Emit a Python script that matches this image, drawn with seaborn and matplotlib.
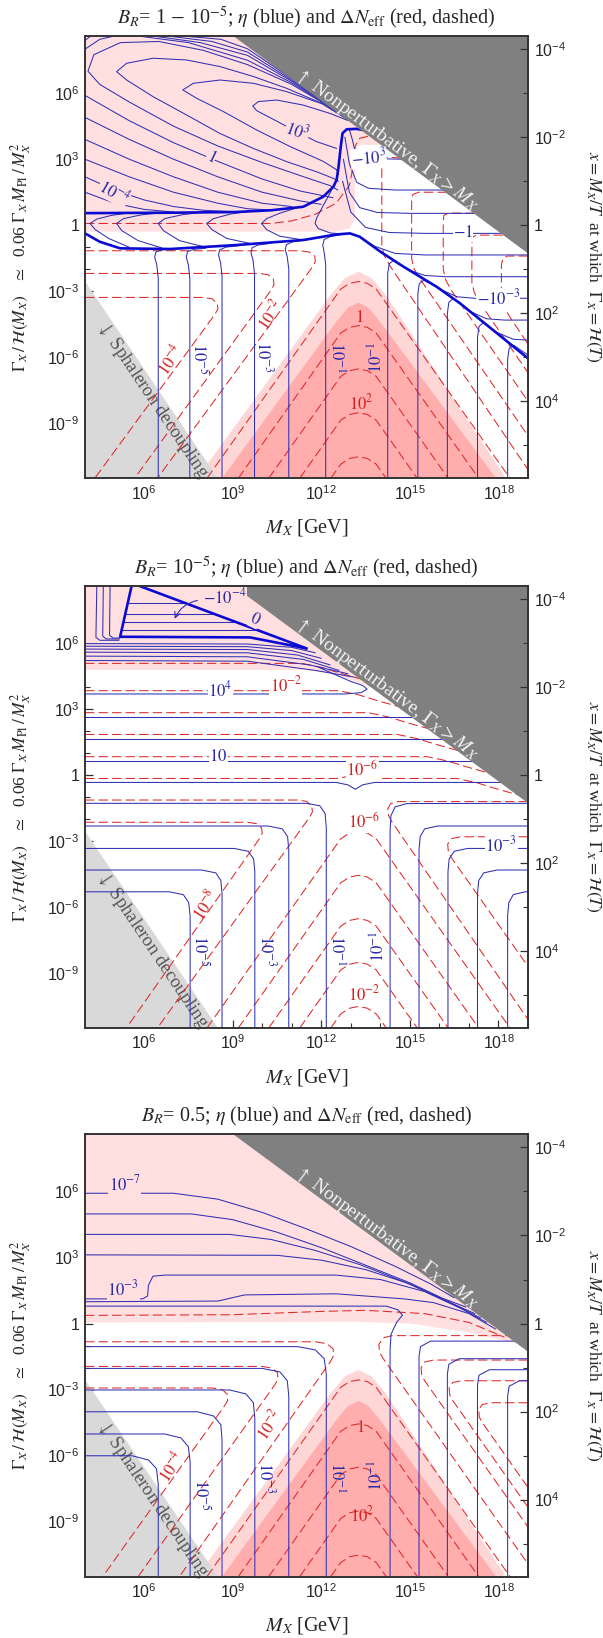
import numpy as np
import matplotlib
matplotlib.use("Agg")
import matplotlib.pyplot as plt
import seaborn as sns

sns.set_style("ticks")
plt.rcParams["font.family"] = ["Liberation Serif", "DejaVu Serif"]
plt.rcParams["mathtext.fontset"] = "stix"
plt.rcParams["mathtext.rm"] = "Liberation Sans"
plt.rcParams["mathtext.it"] = "Liberation Sans:italic"
plt.rcParams["mathtext.bf"] = "Liberation Sans:bold"

# all coordinates are (log10 M_X/GeV, log10 of 0.06 Gamma M_Pl / M^2)
XLIM = (4, 19)
YLIM = (-11.5, 8.6)

# shaded regions
nonpert_region = [(9.02, 8.6), (19, -1.28), (19, 8.6)]
sphaleron_region = [(4, -2.55), (8.5, -11.5), (4, -11.5)]
low_pink_light = [(7.79, -11.5), (12.3, -3.2), (12.8, -2.4), (13.26, -2.11), (13.7, -2.4), (14.2, -3.2), (18.25, -11.5)]
low_pink_dark = [(8.64, -11.5), (12.5, -4.4), (12.9, -3.75), (13.26, -3.52), (13.6, -3.75), (14.0, -4.4), (17.92, -11.5)]
p1_pink = [(4, 8.6), (4, -0.29), (12.5, -0.29), (12.95, -0.15), (13.14, 0.3), (13.14, 3.45), (13.3, 3.65), (14.5, 3.65), (14.5, 8.6)]
p2_pink = [(4, 8.6), (4, 4.77), (11.5, 4.77), (12.5, 4.55), (13.3, 4.2), (13.8, 3.92), (14.5, 3.92), (14.5, 8.6)]
p3_pink = [(4, 8.6), (4, 0.05), (13.15, 0.08), (15.0, 0.0), (17.0, -0.4), (18.64, -0.92), (19, -1.28), (19, 8.6)]

# Delta N_eff wedges below the diagonal band (same in all panels)
red_wedges = [
    [(8.13, -11.5), (12.66, -2.9), (12.96, -2.64), (13.26, -2.56), (13.56, -2.64), (13.86, -2.9), (18.39, -11.5)],
    [(9.19, -11.5), (12.66, -4.9), (12.96, -4.64), (13.26, -4.56), (13.56, -4.64), (13.86, -4.9), (17.33, -11.5)],
    [(10.22, -11.5), (12.66, -6.87), (12.96, -6.61), (13.26, -6.53), (13.56, -6.61), (13.86, -6.87), (16.3, -11.5)],
    [(11.27, -11.5), (12.66, -8.86), (12.96, -8.6), (13.26, -8.52), (13.56, -8.6), (13.86, -8.86), (15.25, -11.5)],
    [(12.32, -11.5), (12.66, -10.86), (12.96, -10.6), (13.26, -10.52), (13.56, -10.6), (13.86, -10.86), (14.2, -11.5)],
]

# ---------------- panel 1: B_R = 1 - 1e-5 ----------------
p1_blue_thick = [
    [(4, 0.55), (7, 0.57), (9.1, 0.6), (10.3, 0.68), (11.39, 0.84), (12.07, 1.3), (12.41, 1.75), (12.52, 2.06),
     (12.58, 2.6), (12.66, 3.57), (12.72, 4.18), (12.86, 4.36), (13.2, 4.38), (13.4, 4.33)],
    [(4, -0.37), (4.5, -0.75), (5.19, -1.05), (6.88, -1.08), (9.13, -0.9), (11.4, -0.67), (12.5, -0.42),
     (12.97, -0.37), (13.3, -0.52), (14.0, -1.2), (14.78, -1.88), (15.9, -2.79), (16.7, -3.55), (19, -6.05)],
]
p1_blue = [
    [(12.52, 3.49), (11.84, 3.8), (11.17, 4.25), (10.38, 4.81), (9.81, 5.21), (9.68, 5.42), (9.87, 5.62),
     (10.49, 5.69), (11.39, 5.46), (12.3, 5.08), (12.9, 4.76)],
    [(12.58, 2.3), (12.52, 2.52), (12.07, 2.9), (10.94, 3.58), (9.81, 4.33), (8.68, 5.17), (7.78, 5.77),
     (7.31, 6.15), (7.67, 6.45), (8.57, 6.6), (9.7, 6.45), (10.83, 6.07), (12.07, 5.5), (12.9, 4.79)],
    [(12.58, 2.0), (12.41, 2.13), (11.84, 2.43), (10.83, 2.89), (9.7, 3.49), (8.57, 4.17), (7.44, 5.01),
     (6.31, 5.84), (5.41, 6.6), (5.07, 6.98), (5.41, 7.36), (6.31, 7.59), (7.44, 7.51), (8.57, 7.21),
     (9.7, 6.76), (10.83, 6.22), (12.0, 5.55), (12.9, 4.81)],
    [(12.56, 1.6), (12.3, 1.8), (11.3, 2.25), (10, 2.85), (8.5, 3.6), (7, 4.5), (5.5, 5.6), (4.5, 6.4),
     (4.1, 7.0), (4.3, 7.75), (5.2, 8.3), (6.5, 8.35), (8.0, 7.95), (9.5, 7.3), (11, 6.4), (12.2, 5.45), (12.9, 4.83)],
    [(12.4, 1.25), (11.3, 1.55), (10, 2.1), (8.5, 2.9), (7, 3.75), (5.5, 4.75), (4, 5.9)],
    [(4, 8.0), (4.5, 8.45), (5.0, 8.6)],
    [(12.0, 0.95), (11.3, 1.1), (10, 1.5), (8.5, 2.2), (7, 3.0), (5.5, 3.9), (4, 4.9)],
    [(4, 8.4), (4.2, 8.6)],
    [(11.0, 0.85), (10, 1.0), (8.5, 1.5), (7, 2.2), (5.5, 3.0), (4, 3.9)],
    [(10.5, 0.68), (9.5, 0.75), (8.5, 1.0), (7, 1.5), (5.5, 2.2), (4, 3.0)],
    [(9, 0.62), (8, 0.68), (7, 0.85), (6, 1.15), (5, 1.6), (4, 2.2)],
    [(7, 0.6), (6, 0.72), (5, 1.0), (4, 1.5)],
    [(5.8, 8.6), (7.5, 8.3), (9.5, 7.5), (11, 6.47), (12.2, 5.47), (12.9, 4.83)],
    [(6.3, 8.6), (7.9, 8.3), (9.5, 7.72), (11, 6.54), (12.2, 5.49), (12.9, 4.83)],
    [(6.8, 8.6), (8.3, 8.35), (9.5, 7.87), (11, 6.6), (12.2, 5.5)],
    [(7.3, 8.6), (8.6, 8.45), (9.5, 8.02), (11, 6.66), (12.2, 5.51)],
    # loops between the two thick lines
    [(5.5, 0.56), (4.9, 0.45), (4.4, 0.28), (4.17, 0.08), (4.35, -0.2), (4.8, -0.6), (5.5, -1.0)],
    [(6.6, 0.57), (5.9, 0.47), (5.3, 0.3), (5.07, 0.08), (5.25, -0.25), (5.8, -0.7), (6.6, -1.03)],
    [(8.0, 0.59), (7.3, 0.48), (6.7, 0.3), (6.48, 0.08), (6.66, -0.25), (7.2, -0.7), (8.0, -0.97)],
    [(9.6, 0.64), (8.9, 0.5), (8.35, 0.3), (8.12, 0.08), (8.3, -0.2), (8.8, -0.6), (9.6, -0.83)],
    [(11.2, 0.8), (10.6, 0.55), (10.15, 0.3), (9.98, 0.08), (10.15, -0.2), (10.6, -0.5), (11.3, -0.65)],
    [(12.35, 1.6), (12.05, 0.85), (11.85, 0.35), (11.79, 0.08), (11.9, -0.15), (12.3, -0.35), (12.8, -0.4)],
    # lines right of the spike
    [(12.95, 4.35), (13.05, 3.9), (13.15, 3.35), (13.4, 3.1), (14.0, 3.02), (14.8, 3.0)],
    [(12.8, 4.0), (12.95, 2.8), (13.2, 1.95), (13.6, 1.68), (14.5, 1.6), (16.3, 1.6)],
    [(12.75, 3.0), (12.95, 1.5), (13.3, 0.8), (13.9, 0.58), (15, 0.54), (17.3, 0.54)],
    [(12.72, 2.0), (13.0, 0.6), (13.5, -0.1), (14.3, -0.33), (15.5, -0.37), (18.2, -0.37)],
    [(13.3, -0.55), (13.8, -0.95), (14.5, -1.28), (15.5, -1.35), (19, -1.35)],
    [(15.0, -2.05), (15.5, -2.28), (16.2, -2.34), (19, -2.34)],
    [(16.0, -2.9), (16.6, -3.25), (17.2, -3.32), (19, -3.32)],
    [(17.0, -3.9), (17.6, -4.25), (18.2, -4.31), (19, -4.31)],
    [(17.9, -4.85), (18.5, -5.18), (19, -5.22)],
    # vertical lines of the lower region
    [(6.48, -11.5), (6.48, -2.4), (6.43, -1.8), (6.36, -1.45), (6.4, -1.22), (6.6, -1.12), (7.0, -1.08)],
    [(7.55, -11.5), (7.55, -2.4), (7.5, -1.8), (7.43, -1.45), (7.47, -1.2), (7.67, -1.1), (8.1, -1.04)],
    [(8.64, -11.5), (8.64, -2.3), (8.59, -1.7), (8.52, -1.35), (8.56, -1.12), (8.76, -1.0), (9.2, -0.93)],
    [(9.74, -11.5), (9.74, -2.2), (9.69, -1.6), (9.62, -1.25), (9.66, -1.02), (9.86, -0.9), (10.3, -0.82)],
    [(10.9, -11.5), (10.9, -2.0), (10.85, -1.45), (10.78, -1.1), (10.82, -0.88), (11.02, -0.76), (11.5, -0.66)],
    [(12.15, -11.5), (12.15, -1.8), (12.1, -1.25), (12.05, -0.9), (12.1, -0.65), (12.3, -0.52), (12.7, -0.42)],
    [(14.25, -11.5), (14.25, -2.2), (14.3, -1.75), (14.45, -1.6), (14.8, -1.9)],
    [(15.27, -11.5), (15.27, -3.1), (15.32, -2.65), (15.47, -2.5), (15.9, -2.8)],
    [(16.27, -11.5), (16.27, -4.0), (16.32, -3.5), (16.47, -3.33), (16.9, -3.75)],
    [(17.29, -11.5), (17.29, -5.1), (17.34, -4.6), (17.49, -4.42), (17.9, -4.85)],
    [(18.31, -11.5), (18.31, -6.1), (18.36, -5.6), (18.51, -5.45), (19, -5.9)],
]
p1_red = [
    [(4, 0.08), (10.3, 0.08), (11.0, 0.2), (11.8, 0.5), (12.5, 1.0), (12.95, 1.8), (13.1, 2.8), (13.15, 3.6),
     (13.3, 3.95), (13.6, 4.05), (13.8, 4.05)],
    [(4, -1.16), (11.3, -1.16), (11.6, -1.22), (11.78, -1.4), (11.8, -1.65), (11.7, -1.9), (6.45, -11.5)],
    [(4, -2.19), (9.9, -2.19), (10.2, -2.25), (10.38, -2.45), (10.4, -2.7), (10.3, -2.95), (5.68, -11.5)],
    [(4, -3.28), (8.0, -3.28), (8.3, -3.34), (8.48, -3.55), (8.5, -3.8), (8.4, -4.05), (4.33, -11.5)],
    [(14.7, 3.05), (14.25, 3.1), (14.1, 2.95), (14.05, 2.6), (14.05, -0.9), (14.12, -1.35), (14.35, -1.9), (19.2, -11.5)],
    [(16.25, 1.5), (15.3, 1.5), (15.1, 1.4), (15.06, 1.1), (15.06, -1.5), (15.13, -1.95), (15.35, -2.45), (19, -9.57)],
    [(17.2, 0.55), (16.3, 0.55), (16.15, 0.45), (16.13, 0.15), (16.13, -2.0), (16.2, -2.45), (16.4, -2.95), (19, -8.0)],
    [(18.15, -0.45), (17.25, -0.45), (17.12, -0.55), (17.1, -0.85), (17.1, -2.6), (17.18, -3.05), (17.38, -3.55), (19, -6.7)],
    [(19, -1.4), (18.3, -1.4), (18.15, -1.5), (18.1, -1.8), (18.1, -3.3), (18.2, -3.75), (18.4, -4.2), (19, -5.4)],
]
# label text, x, y, rotation, colour key, background key
p1_labels = [
    ("$10^3$", 11.2, 4.3, -20, "b", "pink"), ("$1$", 8.27, 3.1, -26, "b", "pink"),
    ("$10^{-4}$", 4.98, 1.5, -30, "b", "pink"), ("$-10^3$", 13.6, 3.05, 5, "b", "white"),
    ("$-1$", 16.8, -0.37, 0, "b", "white"), ("$-10^{-3}$", 18.0, -3.32, 0, "b", "white"),
    ("$10^{-5}$", 7.88, -6.1, -90, "b", None), ("$10^{-3}$", 10.06, -6.0, -90, "b", None),
    ("$10^{-1}$", 12.49, -6.0, -90, "b", None), ("$10^{-1}$", 13.9, -6.0, 90, "b", None),
    ("$10^{-4}$", 6.9, -6.1, 56, "r", None), ("$10^{-2}$", 10.3, -4.05, 56, "r", None),
    ("$1$", 13.3, -4.2, 0, "r", None), ("$10^2$", 13.35, -8.1, 0, "r", None),
]

# ---------------- panel 2: B_R = 1e-5 ----------------
p2_blue_thick = [
    [(5.58, 8.6), (5.19, 6.28), (9.59, 6.25), (11.5, 5.75)],
    [(5.82, 8.6), (11.5, 5.75)],
]
p2_blue = [
    [(5.45, 7.8), (7.41, 7.8)], [(5.37, 7.3), (8.41, 7.3)], [(5.31, 6.95), (9.1, 6.95)], [(5.24, 6.6), (9.8, 6.6)],
    [(4.4, 8.6), (4.37, 6.25), (4.5, 6.12), (5.15, 6.12)],
    [(4.62, 8.6), (4.6, 6.3), (4.72, 6.18), (5.17, 6.18)],
    [(4.85, 8.6), (4.83, 6.35), (4.95, 6.22), (5.18, 6.22)],
    [(4, 5.97), (9.5, 5.95), (11, 5.8), (11.8, 5.55)],
    [(4, 5.85), (9.5, 5.83), (11, 5.65), (12.0, 5.3)],
    [(4, 5.72), (9.5, 5.7), (11.2, 5.45), (12.3, 5.0)],
    [(4, 5.58), (9.5, 5.55), (11.4, 5.25), (12.6, 4.75)],
    [(4, 5.4), (9.5, 5.37), (11.6, 5.0), (12.9, 4.6)],
    [(4, 5.2), (9.5, 5.17), (11.8, 4.75), (13.1, 4.45)],
    [(4, 3.68), (12.8, 3.68), (13.35, 3.74), (13.55, 3.9), (13.4, 4.07), (13.0, 4.25), (12.4, 4.6), (11.9, 4.9)],
    [(4, 2.65), (15.1, 2.65)], [(4, 1.63), (16.1, 1.63)], [(4, 0.65), (17.1, 0.65)],
    [(4, -0.34), (12.5, -0.34), (12.9, -0.45), (13.15, -0.65), (13.4, -0.45), (13.8, -0.34), (18.1, -0.34)],
    [(4, -1.29), (11.5, -1.29), (11.95, -1.4), (12.13, -1.75), (12.17, -2.4), (12.17, -11.5)],
    [(19, -1.29), (14.9, -1.3), (14.5, -1.45), (14.36, -1.85), (14.33, -2.5), (14.33, -11.5)],
    [(4, -2.32), (10.2, -2.32), (10.68, -2.45), (10.86, -2.8), (10.9, -3.4), (10.9, -11.5)],
    [(4, -3.34), (9.05, -3.34), (9.53, -3.47), (9.71, -3.82), (9.75, -4.4), (9.75, -11.5)],
    [(4, -4.32), (7.95, -4.32), (8.43, -4.45), (8.6, -4.8), (8.64, -5.4), (8.64, -11.5)],
    [(4, -5.31), (6.85, -5.31), (7.33, -5.44), (7.51, -5.8), (7.56, -6.4), (7.56, -11.5)],
    [(19, -2.32), (15.95, -2.32), (15.5, -2.45), (15.35, -2.8), (15.31, -3.4), (15.31, -11.5)],
    [(19, -3.34), (16.95, -3.34), (16.5, -3.47), (16.33, -3.82), (16.29, -4.4), (16.29, -11.5)],
    [(19, -4.32), (17.95, -4.32), (17.5, -4.45), (17.33, -4.8), (17.29, -5.4), (17.29, -11.5)],
    [(19, -5.31), (18.9, -5.31), (18.5, -5.44), (18.35, -5.8), (18.31, -6.4), (18.31, -11.5)],
]
p2_red = [
    [(4, 5.07), (11.35, 5.07), (12.05, 4.87), (12.65, 4.62), (13.45, 4.32)],
    [(4, 3.83), (12.59, 3.83), (13.29, 3.63), (13.89, 3.38), (14.69, 3.08)],
    [(4, 2.83), (13.59, 2.83), (14.29, 2.63), (14.89, 2.38), (15.69, 2.08)],
    [(4, 1.84), (14.58, 1.84), (15.28, 1.64), (15.88, 1.39), (16.68, 1.09)],
    [(4, 0.83), (15.59, 0.83), (16.29, 0.63), (16.89, 0.38), (17.69, 0.08)],
    [(4, -0.16), (12.5, -0.16), (12.95, -0.06), (13.25, 0.0), (13.55, -0.06), (14.0, -0.16), (16.58, -0.16),
     (17.28, -0.36), (17.88, -0.61), (18.68, -0.91)],
    [(4, -1.14), (11.2, -1.14), (11.5, -1.2), (11.68, -1.42), (11.7, -1.68), (11.6, -1.93), (6.45, -11.5)],
    [(4, -2.15), (9.5, -2.15), (9.8, -2.21), (9.98, -2.41), (10.0, -2.66), (9.9, -2.91), (5.4, -11.5)],
    [(19, -1.21), (14.6, -1.21), (14.35, -1.3), (14.25, -1.55), (14.28, -1.85), (14.4, -2.15), (19.2, -11.5)],
    [(19, -2.81), (16.7, -2.81), (16.4, -2.9), (16.28, -3.15), (16.3, -3.45), (16.4, -3.75), (19, -8.7)],
]
p2_labels = [
    ("$-10^{-4}$", 8.75, 8.05, 0, "b", "pink"), ("$0$", 9.76, 7.05, -25, "b", "pink"),
    ("$10^4$", 8.58, 3.85, 0, "b", "white"), ("$10$", 8.51, 0.8, 0, "b", "white"),
    ("$10^{-3}$", 18.1, -3.2, 0, "b", "white"),
    ("$10^{-2}$", 10.8, 4.05, 0, "r", "white"), ("$10^{-6}$", 13.4, 0.25, 0, "r", "white"),
    ("$10^{-6}$", 13.45, -2.15, 0, "r", "white"), ("$10^{-8}$", 8.1, -5.9, 56, "r", None),
    ("$10^{-2}$", 13.45, -9.95, 0, "r", None),
    ("$10^{-5}$", 7.9, -8.0, -90, "b", None), ("$10^{-3}$", 10.14, -8.0, -90, "b", None),
    ("$10^{-1}$", 12.5, -8.0, -90, "b", None), ("$10^{-1}$", 13.95, -7.8, 90, "b", None),
]

# ---------------- panel 3: B_R = 0.5 ----------------
p3_blue = [
    [(4, 5.92), (7.0, 5.92), (8.5, 5.65), (10, 5.05), (11.5, 4.3), (13, 3.5), (14.5, 2.6), (15.7, 1.8), (16.5, 1.17)],
    [(4, 4.98), (7.6, 4.98), (9, 4.72), (10.5, 4.15), (12, 3.45), (13.5, 2.65), (15, 1.85), (16.1, 1.15), (16.9, 0.75)],
    [(4, 4.05), (8.9, 4.05), (10.3, 3.82), (11.8, 3.32), (13.3, 2.68), (14.8, 1.9), (16.2, 1.05), (17.2, 0.45)],
    [(4, 3.12), (10.5, 3.1), (12, 2.88), (13.5, 2.45), (15, 1.8), (16.3, 1.0), (17.4, 0.25)],
    [(4, 1.12), (5.95, 1.12), (6.12, 1.25), (6.15, 1.75), (6.3, 2.15), (6.7, 2.2), (12.5, 2.2), (14.0, 2.0),
     (15.5, 1.45), (16.7, 0.7), (17.6, 0.05)],
    [(4, 0.99), (8.5, 1.02), (9.4, 1.3), (12.5, 1.35), (14.8, 1.12), (15.8, 0.95), (17, 0.45), (17.9, -0.25)],
    [(4, 0.79), (14.2, 0.79), (14.6, 0.62), (14.75, 0.38), (14.55, 0.05), (14.36, -0.5), (14.33, -1.2), (14.33, -11.5)],
    [(4, -1.05), (11.2, -1.05), (11.8, -1.2), (12.1, -1.6), (12.17, -2.3), (12.17, -11.5)],
    [(4, -2.04), (10.0, -2.04), (10.6, -2.2), (10.85, -2.6), (10.9, -3.3), (10.9, -11.5)],
    [(4, -3.02), (8.9, -3.02), (9.45, -3.2), (9.7, -3.6), (9.75, -4.3), (9.75, -11.5)],
    [(4, -4.01), (7.8, -4.01), (8.35, -4.2), (8.6, -4.6), (8.64, -5.3), (8.64, -11.5)],
    [(4, -5.02), (6.7, -5.02), (7.25, -5.2), (7.5, -5.6), (7.56, -6.3), (7.56, -11.5)],
    [(4, -6.01), (5.6, -6.01), (6.15, -6.2), (6.42, -6.6), (6.48, -7.3), (6.48, -11.5)],
    [(19, -0.8), (15.7, -0.8), (15.36, -1.05), (15.31, -1.5), (15.31, -11.5)],
    [(19, -1.6), (16.67, -1.6), (16.32, -1.85), (16.27, -2.3), (16.27, -11.5)],
    [(19, -2.1), (17.69, -2.1), (17.34, -2.35), (17.29, -2.8), (17.29, -11.5)],
    [(19, -2.6), (18.71, -2.6), (18.36, -2.85), (18.31, -3.3), (18.31, -11.5)],
]
p3_red = [
    [(4, 0.37), (9, 0.4), (12.0, 0.55), (13.5, 0.6), (15.5, 0.45), (17.0, 0.05), (18.2, -0.62)],
    [(4, -0.83), (11.8, -0.83), (12.2, -0.92), (12.4, -1.15), (12.42, -1.45), (12.3, -1.75), (7.2, -11.5)],
    [(4, -1.95), (10.0, -1.95), (10.35, -2.03), (10.52, -2.25), (10.53, -2.55), (10.42, -2.8), (5.8, -11.5)],
    [(4, -2.93), (8.3, -2.93), (8.65, -3.0), (8.82, -3.22), (8.83, -3.5), (8.72, -3.75), (4.6, -11.5)],
    [(19, -0.55), (14.4, -0.55), (14.1, -0.65), (13.95, -0.95), (13.97, -1.3), (14.1, -1.6), (19.3, -11.5)],
    [(19, -1.66), (15.8, -1.66), (15.5, -1.75), (15.38, -2.0), (15.4, -2.35), (15.5, -2.6), (19, -9.25)],
    [(19, -2.6), (16.75, -2.6), (16.45, -2.68), (16.33, -2.93), (16.35, -3.25), (16.45, -3.5), (19, -8.35)],
    [(19, -3.6), (17.75, -3.6), (17.45, -3.68), (17.33, -3.92), (17.35, -4.25), (17.45, -4.5), (19, -7.45)],
]
p3_labels = [
    ("$10^{-7}$", 5.35, 6.3, 0, "b", "pink"), ("$10^{-3}$", 5.3, 1.55, 0, "b", "pink"),
    ("$10^{-5}$", 7.92, -7.8, -90, "b", None), ("$10^{-3}$", 10.12, -7.0, -90, "b", None),
    ("$10^{-1}$", 12.5, -7.0, -90, "b", None), ("$10^{-1}$", 13.9, -6.9, 90, "b", None),
    ("$10^{-4}$", 6.94, -6.5, 56, "r", None), ("$10^{-2}$", 10.27, -4.6, 56, "r", None),
    ("$1$", 13.33, -4.75, 0, "r", None), ("$10^2$", 13.4, -8.7, 0, "r", None),
]

titles = [r"$B_R$= 1 $-$ 10$^{-5}$; $\eta$ (blue) and $\Delta N_{\rm eff}$ (red, dashed)",
          r"$B_R$= 10$^{-5}$; $\eta$ (blue) and $\Delta N_{\rm eff}$ (red, dashed)",
          r"$B_R$= 0.5; $\eta$ (blue) and $\Delta N_{\rm eff}$ (red, dashed)"]

BLUE = "#3030b4"
BLUE_THICK = "#0a0ad2"
RED = "#e02828"
PINK = "#ffdfdf"
PINK_LO = "#ffd6d6"
PINK_DARK = "#ffadad"
GREY = "#808080"
GREY_LIGHT = "#d9d9d9"
TXT = {"b": "#2a2aa8", "r": "#d82020"}
BG = {"pink": PINK, "white": "white", None: None}


def poly(ax, pts, color, z):
    a = np.asarray(pts, float)
    ax.fill(10 ** a[:, 0], 10 ** a[:, 1], color=color, lw=0, zorder=z)


def lines(ax, group, color, lw, dashed=False, z=3):
    for ln in group:
        a = np.asarray(ln, float)
        kw = dict(linestyle=(0, (9, 4))) if dashed else {}
        sns.lineplot(x=10 ** a[:, 0], y=10 ** a[:, 1], ax=ax, color=color, lw=lw, sort=False,
                     estimator=None, legend=False, zorder=z, **kw)


def labels(ax, items):
    for s, x, y, rot, c, bg in items:
        bbox = dict(fc=BG[bg], ec="none", pad=0.3) if bg else None
        ax.text(10 ** x, 10 ** y, s, color=TXT[c], rotation=rot, ha="center", va="center",
                fontsize=12, zorder=6, bbox=bbox, rotation_mode="anchor")


def frame(ax, title):
    ax.set_xscale("log")
    ax.set_yscale("log")
    ax.set_xlim(10 ** XLIM[0], 10 ** XLIM[1])
    ax.set_ylim(10 ** YLIM[0], 10 ** YLIM[1])
    tick_font = dict(math_fontfamily="custom", fontfamily="Liberation Sans", fontsize=11.5)
    ax.set_xticks([10.0 ** k for k in range(6, 19, 3)],
                  ["$10^{%d}$" % k for k in range(6, 19, 3)], **tick_font)
    ax.set_xticks([10.0 ** k for k in range(5, 20)], minor=True)
    ax.set_xticklabels([], minor=True)
    yt = list(range(-9, 7, 3))
    ax.set_yticks([10.0 ** k for k in yt], ["1" if k == 0 else "$10^{%d}$" % k for k in yt], **tick_font)
    ax.set_yticks([10.0 ** k for k in range(-11, 9)], minor=True)
    ax.set_yticklabels([], minor=True)
    ax.tick_params(which="both", direction="in", top=True, right=False, color="#333333")
    ax.tick_params(which="major", length=6, width=0.9, pad=4)
    ax.tick_params(which="minor", length=3.5, width=0.8)
    for s in ax.spines.values():
        s.set_color("#333333")
        s.set_linewidth(1.4)
        s.set_zorder(10)
    ax.set_xlabel("")
    ax.set_ylabel("")

    tw = ax.twinx()
    tw.set_yscale("log")
    tw.set_ylim(10 ** 5.75, 10 ** -4.3)
    rt = [-4, -2, 0, 2, 4]
    tw.set_yticks([10.0 ** k for k in rt], ["1" if k == 0 else "$10^{%d}$" % k for k in rt], **tick_font)
    tw.set_yticks([10.0 ** k for k in (-3, -1, 1, 3, 5)], minor=True)
    tw.set_yticklabels([], minor=True)
    tw.tick_params(which="both", direction="in", color="#333333")
    tw.tick_params(which="major", length=6, width=0.9, pad=4)
    tw.tick_params(which="minor", length=3.5, width=0.8)
    for s in tw.spines.values():
        s.set_visible(False)

    ax.text(0.5, 1 + 18 / 442, title, transform=ax.transAxes, ha="center", va="center", fontsize=14.5)
    ax.text(0.5, -49 / 442, r"$M_X$ [GeV]", transform=ax.transAxes, ha="center", va="center", fontsize=14.5)
    ax.text(-64 / 443, 0.5, r"$\Gamma_X\,/\,\mathcal{H}(M_X)$   $\simeq$  0.06 $\Gamma_X\,M_{\rm Pl}\,/\,M_X^2$",
            transform=ax.transAxes, rotation=90, ha="center", va="center", fontsize=12.5)
    ax.text(508 / 443, 0.5, r"$x = M_X/T$  at which  $\Gamma_X = \mathcal{H}(T)$",
            transform=ax.transAxes, rotation=270, ha="center", va="center", fontsize=12.5)

    poly(ax, nonpert_region, GREY, 5)
    poly(ax, sphaleron_region, GREY_LIGHT, 1.5)
    ax.text(10 ** 14.2, 10 ** 3.9, r"$\uparrow$ Nonperturbative, $\Gamma_X > M_X$", color="#f2f2f2",
            rotation=-36.7, ha="center", va="center", fontsize=14, zorder=7, rotation_mode="anchor")
    ax.text(10 ** 6.3, 10 ** -7.95, r"$\downarrow$ Sphaleron decoupling", color="#555555",
            rotation=-56, ha="center", va="center", fontsize=13.5, zorder=2, rotation_mode="anchor")


fig = plt.figure(figsize=(6.03, 16.38), dpi=100)
W = 443 / 603
H = 442.3 / 1638
axes = [fig.add_axes([85 / 603, b, W, H]) for b in (0.708, 0.3724, 0.0375)]

# panel 1
ax = axes[0]
poly(ax, p1_pink, PINK, 1)
poly(ax, low_pink_light, PINK_LO, 1.1)
poly(ax, low_pink_dark, PINK_DARK, 1.2)
lines(ax, p1_red + red_wedges, RED, 0.75, dashed=True)
lines(ax, p1_blue, BLUE, 0.75)
lines(ax, p1_blue_thick, BLUE_THICK, 1.9)
labels(ax, p1_labels)
frame(ax, titles[0])

# panel 2
ax = axes[1]
poly(ax, p2_pink, PINK, 1)
lines(ax, p2_red + red_wedges, RED, 0.75, dashed=True)
lines(ax, p2_blue, BLUE, 0.75)
lines(ax, p2_blue_thick, BLUE_THICK, 1.9)
labels(ax, p2_labels)
ax.annotate("", xy=(10 ** 7.0, 10 ** 6.98), xytext=(10 ** 7.9, 10 ** 7.95),
            arrowprops=dict(arrowstyle="->", color=BLUE, lw=0.8, connectionstyle="arc3,rad=0.3"), zorder=6)
frame(ax, titles[1])

# panel 3
ax = axes[2]
poly(ax, p3_pink, PINK, 1)
poly(ax, low_pink_light, PINK_LO, 1.1)
poly(ax, low_pink_dark, PINK_DARK, 1.2)
lines(ax, p3_red + red_wedges, RED, 0.75, dashed=True)
lines(ax, p3_blue, BLUE, 0.75)
labels(ax, p3_labels)
frame(ax, titles[2])

fig.savefig("out.png", dpi=100)
